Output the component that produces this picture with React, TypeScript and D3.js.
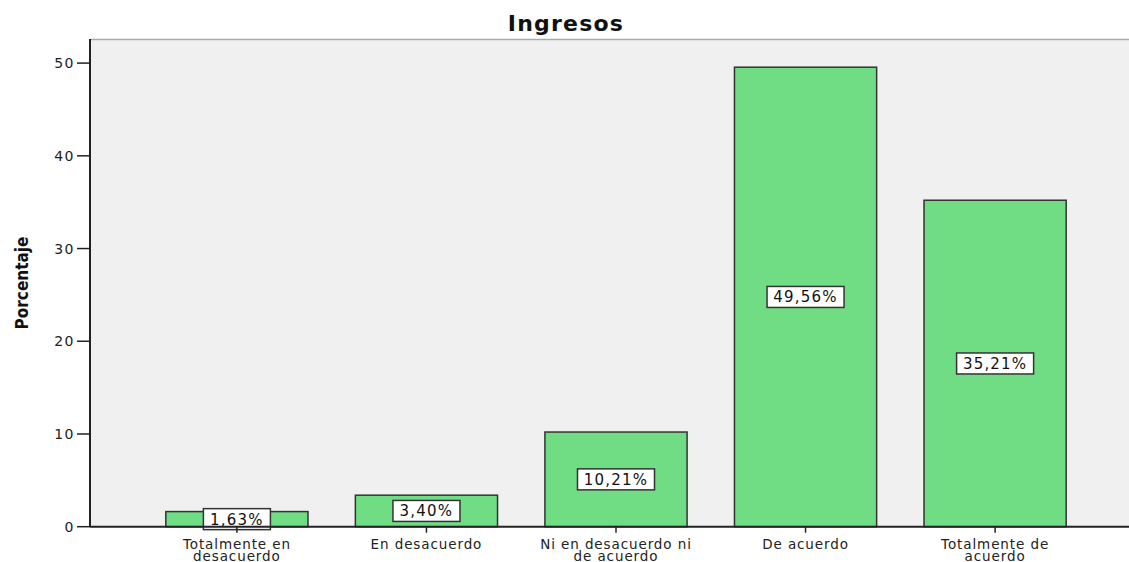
import { scaleBand, scaleLinear } from "d3";

const categories = [
  ["Totalmente en", "desacuerdo"],
  ["En desacuerdo"],
  ["Ni en desacuerdo ni", "de acuerdo"],
  ["De acuerdo"],
  ["Totalmente de", "acuerdo"],
];
const percents = [1.63, 3.4, 10.21, 49.56, 35.21];
const yTicks = [0, 10, 20, 30, 40, 50];

const W = 1129;
const H = 562;
const left = 90;
const top = 39;
const bottom = 526.7;
const font = "'DejaVu Sans', Verdana, sans-serif";

const fmt = (v: number) => v.toFixed(2).replace(".", ",") + "%";

const App = () => {
  const x = scaleBand<number>()
    .domain(percents.map((_, i) => i))
    .range([left, 1142])
    .paddingInner(0.25)
    .paddingOuter(0.4);
  const y = scaleLinear().domain([0, 52.6]).range([bottom, top]);
  const bw = x.bandwidth();

  return (
    <svg
      width={W}
      height={H}
      style={{ position: "absolute", left: 0, top: 0, background: "#fff" }}
      fontFamily={font}
    >
      <rect x={left} y={top} width={W - left} height={bottom - top} fill="#f0f0f0" />
      <line x1={left} x2={W} y1={top + 0.5} y2={top + 0.5} stroke="#aaa" strokeWidth={1.5} />

      {percents.map((v, i) => (
        <rect
          key={i}
          x={x(i)!}
          y={y(v)}
          width={bw}
          height={bottom - y(v)}
          fill="#70dd84"
          stroke="#333"
          strokeWidth={1.5}
        />
      ))}

      {percents.map((v, i) => {
        const cx = x(i)! + bw / 2;
        const cy = y(v / 2);
        const label = fmt(v);
        const bwid = label.length * 10 + 17;
        return (
          <g key={i}>
            <rect x={cx - bwid / 2} y={cy - 10.5} width={bwid} height={21} fill="#fff" stroke="#333" strokeWidth={1.5} />
            <text x={cx} y={cy + 5.5} textAnchor="middle" fontSize={15} letterSpacing={1.2} fill="#111">
              {label}
            </text>
          </g>
        );
      })}

      {/* axes */}
      <line x1={left} x2={left} y1={top} y2={bottom} stroke="#222" strokeWidth={2} />
      <line x1={left} x2={W} y1={bottom} y2={bottom} stroke="#222" strokeWidth={2} />
      {yTicks.map((t) => (
        <g key={t}>
          <line x1={left - 13} x2={left} y1={y(t)} y2={y(t)} stroke="#222" strokeWidth={1.5} />
          <text x={left - 15} y={y(t) + 5} textAnchor="end" fontSize={14} letterSpacing={1.5} fill="#222">
            {t}
          </text>
        </g>
      ))}
      {categories.map((lines, i) => {
        const cx = x(i)! + bw / 2;
        return (
          <g key={i}>
            <line x1={cx} x2={cx} y1={bottom} y2={bottom + 6} stroke="#222" strokeWidth={1.5} />
            {lines.map((l, j) => (
              <text key={j} x={cx} y={bottom + 22 + j * 12} textAnchor="middle" fontSize={13.5} letterSpacing={0.9} fill="#222">
                {l}
              </text>
            ))}
          </g>
        );
      })}

      <text x={566} y={31} textAnchor="middle" fontSize={22} fontWeight="bold" letterSpacing={1.2} fill="#111">
        Ingresos
      </text>
      <text
        transform={`translate(28,${283}) rotate(-90)`}
        textAnchor="middle"
        fontSize={17}
        fontWeight="bold"
        fontFamily="'Liberation Sans Narrow', 'DejaVu Sans Condensed', sans-serif"
        fill="#111"
      >
        Porcentaje
      </text>
    </svg>
  );
};

export default App;
